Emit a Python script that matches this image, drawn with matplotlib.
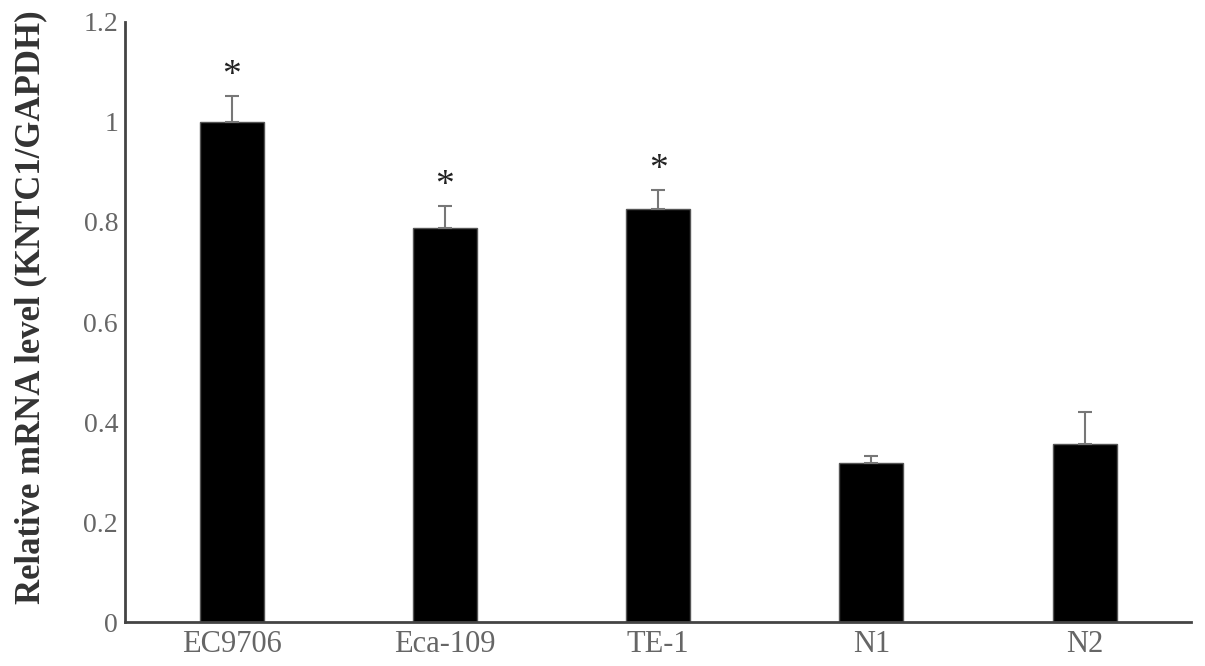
import numpy as np
import matplotlib.pyplot as plt

plt.rcParams['font.family'] = ['Liberation Serif', 'DejaVu Serif']

cell_lines = ['EC9706', 'Eca-109', 'TE-1', 'N1', 'N2']
mrna_level = [1.0, 0.788, 0.826, 0.318, 0.356]
mrna_err = [0.052, 0.044, 0.038, 0.014, 0.064]
significant = [True, True, True, False, False]

fig = plt.figure(figsize=(12.05, 6.66), dpi=100)
ax = fig.add_axes([0.1037, 0.066, 0.885, 0.901])

x = np.arange(len(cell_lines))
ax.bar(x, mrna_level, width=0.3, color='black', edgecolor='#555555', linewidth=1,
       yerr=[np.zeros(len(mrna_err)), mrna_err],
       error_kw=dict(ecolor='#777777', elinewidth=1.5, capsize=5, capthick=1.5))

# significance markers above the error bars
for xi, val, err, sig in zip(x, mrna_level, mrna_err, significant):
    if sig:
        ax.text(xi, val + err + 0.006, '*', ha='center', va='bottom', fontsize=27,
                color='#222222')

ax.set_xlim(-0.5, 4.5)
ax.set_ylim(0, 1.2)
ax.set_yticks([0, 0.2, 0.4, 0.6, 0.8, 1.0, 1.2])
ax.set_yticklabels(['0', '0.2', '0.4', '0.6', '0.8', '1', '1.2'])
ax.set_xticks(x)
ax.set_xticklabels(cell_lines)
ax.tick_params(length=0, labelsize=20, labelcolor='#666666', pad=5)
ax.tick_params(axis='x', labelsize=22, pad=6)

for side in ['top', 'right']:
    ax.spines[side].set_visible(False)
for side in ['left', 'bottom']:
    ax.spines[side].set_color('#444444')
    ax.spines[side].set_linewidth(2)

ax.set_ylabel('Relative mRNA level (KNTC1/GAPDH)', fontsize=25, fontweight='bold',
              color='#333333')
ax.yaxis.set_label_coords(-0.073, 0.525)

plt.savefig('out.png', dpi=100)
